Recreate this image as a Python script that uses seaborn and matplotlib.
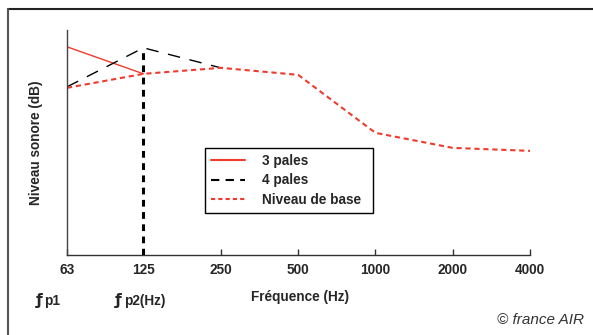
import matplotlib
matplotlib.use("Agg")
import matplotlib.pyplot as plt
import seaborn as sns
import pandas as pd
from matplotlib.lines import Line2D

sns.set_theme(style="white")
plt.rcParams['font.family'] = ['Liberation Sans', 'DejaVu Sans']

# data (relative sound level, no scale shown)
freq_ticks = [63, 125, 250, 500, 1000, 2000, 4000]
freq_labels = ['63', '125', '250', '500', '1000', '2000', '4000']

freq_3p = [63, 125]
level_3p = [208, 181]

freq_4p = [63, 125, 250]
level_4p = [168, 207, 187]

freq_base = [63, 125, 250, 500, 1000, 2000, 4000]
level_base = [167, 181, 187, 180, 122, 107, 104]

fp2 = 125

red = '#f03a2e'
fs = 9.8

fig = plt.figure(figsize=(5.93, 3.35), dpi=100)
ax = fig.add_axes([0.113, 0.239, 0.781, 0.672])

sns.lineplot(x=freq_3p, y=level_3p, ax=ax, color=red, linewidth=1.0)
sns.lineplot(x=freq_4p, y=level_4p, ax=ax, color='black', linewidth=1.0,
             linestyle=(0, (9, 7)))
sns.lineplot(x=freq_base, y=level_base, ax=ax, color=red, linewidth=1.5,
             linestyle=(0, (2.5, 1.8)))
ax.vlines(fp2, 0, max(level_4p), color='black', linewidth=2.2,
          linestyles=(0, (2.2, 1.8)))

ax.set_xscale('log', base=2)
ax.set_xlim(freq_ticks[0], freq_ticks[-1])
ax.set_ylim(0, 225)
ax.set_xticks(freq_ticks)
ax.set_xticklabels(freq_labels, fontweight='bold', fontsize=fs)
ax.xaxis.set_minor_locator(plt.NullLocator())
ax.set_yticks([])
ax.tick_params(axis='x', direction='in', length=4, width=1, color='#333333',
               pad=6, bottom=True)

sns.despine(ax=ax, top=True, right=True)
ax.spines['left'].set_color('#444444')
ax.spines['left'].set_linewidth(1.0)
ax.spines['bottom'].set_color('#333333')
ax.spines['bottom'].set_linewidth(1.0)

ax.set_ylabel('Niveau sonore (dB)', fontweight='bold', fontsize=fs, labelpad=17)

handles = [
    Line2D([], [], color=red, linewidth=1.5),
    Line2D([], [], color='black', linewidth=1.5, linestyle=(0, (4, 3))),
    Line2D([], [], color=red, linewidth=1.5, linestyle=(0, (2, 1.5))),
]
leg = ax.legend(handles, ['3 pales', '4 pales', 'Niveau de base'],
                loc='lower left', bbox_to_anchor=(0.298, 0.187, 0.363, 0.293),
                mode='expand', borderaxespad=0, fancybox=False, framealpha=1,
                prop={'weight': 'bold', 'size': fs},
                handlelength=2.5, borderpad=0.45, labelspacing=0.4,
                handletextpad=1.2)
leg.get_frame().set_edgecolor('black')
leg.get_frame().set_linewidth(1.0)

# bottom annotations
fig.text(300 / 593, 1 - 297 / 335, 'Fréquence (Hz)', ha='center', va='center',
         fontweight='bold', fontsize=fs)
fig.text(36 / 593, 1 - 300 / 335, 'ƒ', ha='left', va='center',
         fontweight='bold', fontsize=11, family='DejaVu Sans')
fig.text(44 / 593, 1 - 301 / 335, 'p1', ha='left', va='center',
         fontweight='bold', fontsize=fs)
fig.text(115 / 593, 1 - 300 / 335, 'ƒ', ha='left', va='center',
         fontweight='bold', fontsize=11, family='DejaVu Sans')
fig.text(124 / 593, 1 - 301 / 335, 'p2(Hz)', ha='left', va='center',
         fontweight='bold', fontsize=fs)
fig.text(584 / 593, 1 - 320 / 335, '© france AIR', ha='right', va='center',
         style='italic', fontsize=11, color='#333333')

# outer frame (top and left edges)
fig.add_artist(Line2D([8 / 593, 1], [1 - 9 / 335, 1 - 9 / 335],
                      transform=fig.transFigure, color='#222222', linewidth=1.5))
fig.add_artist(Line2D([8 / 593, 8 / 593], [0, 1 - 9 / 335],
                      transform=fig.transFigure, color='#555555', linewidth=1.5))

fig.savefig('out.png', dpi=100)
